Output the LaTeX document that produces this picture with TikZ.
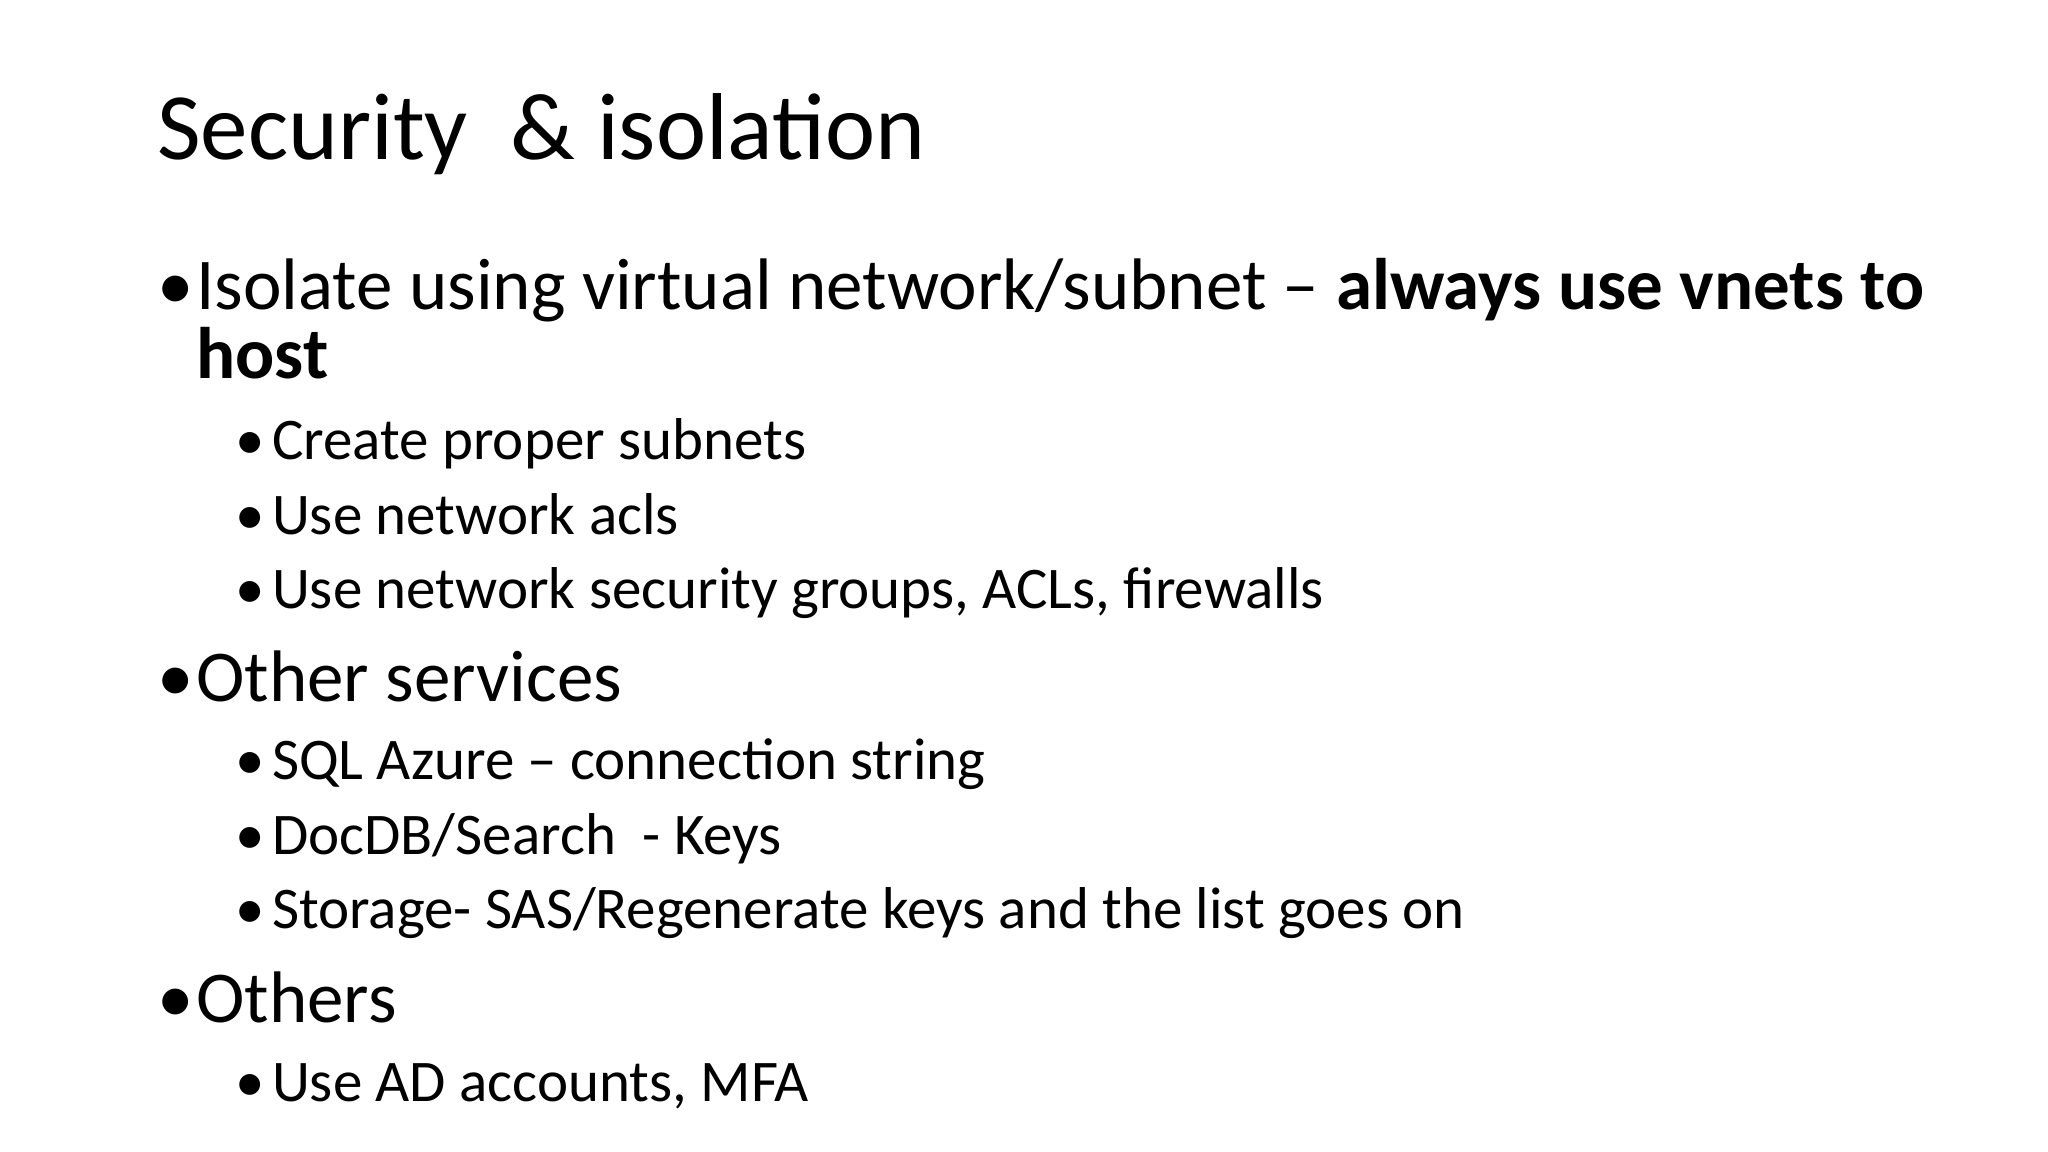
\documentclass[tikz,border=0pt]{standalone}
\usepackage{fontspec}
\setmainfont{Carlito}
\begin{document}
\begin{tikzpicture}[x=0.653pt,y=-0.653pt,
  t/.style={anchor=base west,inner sep=0pt,text=black},
  ti/.style={t,font=\fontsize{47.5}{50}\selectfont},
  la/.style={t,font=\fontsize{36.5}{40}\selectfont},
  lb/.style={t,font=\fontsize{29.5}{32}\selectfont}]
\useasboundingbox[fill=white] (0,0) rectangle (1568,882);
\node[ti] (title) at (120,122) {Security \ \& isolation};
\node[la] (b1) at (120,237) {•};
\node[la] (l1) at (150,237) {Isolate using virtual network/subnet -- \textbf{always use vnets to}};
\node[la] (l1b) at (150,290) {\textbf{host}};
\node[lb] (b2) at (180,352) {•};
\node[lb] (l2) at (208,352) {Create proper subnets};
\node[lb] (b3) at (180,409) {•};
\node[lb] (l3) at (208,409) {Use network acls};
\node[lb] (b4) at (180,466) {•};
\node[lb] (l4) at (208,466) {Use network security groups, ACLs, firewalls};
\node[la] (b5) at (120,537) {•};
\node[la] (l5) at (150,537) {Other services};
\node[lb] (b6) at (180,597) {•};
\node[lb] (l6) at (208,597) {SQL Azure -- connection string};
\node[lb] (b7) at (180,654) {•};
\node[lb] (l7) at (208,654) {DocDB/Search \ - Keys};
\node[lb] (b8) at (180,711) {•};
\node[lb] (l8) at (208,711) {Storage- SAS/Regenerate keys and the list goes on};
\node[la] (b9) at (120,783) {•};
\node[la] (l9) at (150,783) {Others};
\node[lb] (b10) at (180,843) {•};
\node[lb] (l10) at (208,843) {Use AD accounts, MFA};
\end{tikzpicture}
\end{document}
